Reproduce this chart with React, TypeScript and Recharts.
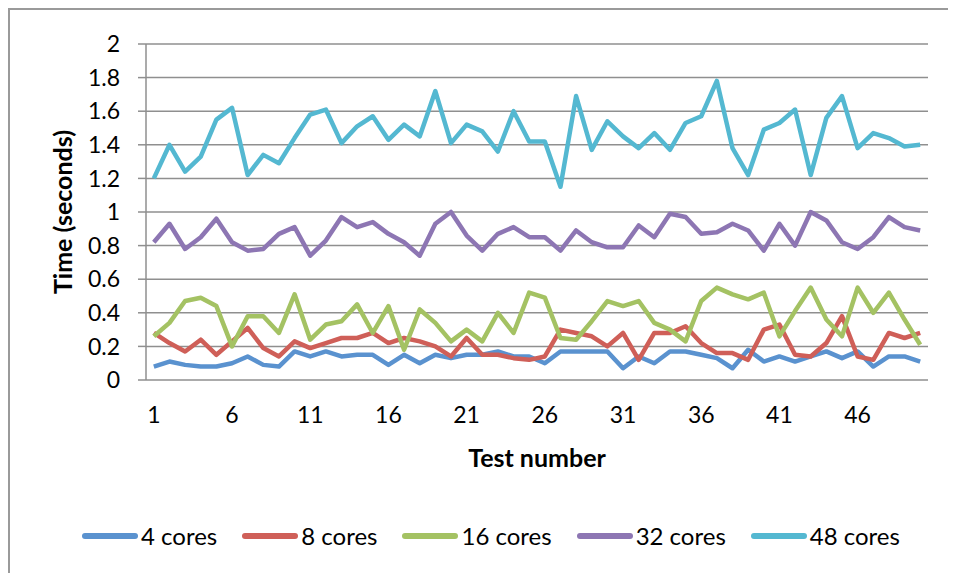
import { LineChart, Line, XAxis, YAxis, CartesianGrid, Legend } from 'recharts';

const tests = Array.from({ length: 50 }, (_, i) => i + 1);
const tickLabels = [1, 6, 11, 16, 21, 26, 31, 36, 41, 46];
const tickMarks = [...tests.map((t) => t - 0.5), 50.5];
const yTicks = [0, 0.2, 0.4, 0.6, 0.8, 1, 1.2, 1.4, 1.6, 1.8, 2];

const cores4 = [
  0.08, 0.11, 0.09, 0.08, 0.08, 0.1, 0.14, 0.09, 0.08, 0.17,
  0.14, 0.17, 0.14, 0.15, 0.15, 0.09, 0.15, 0.1, 0.15, 0.13,
  0.15, 0.15, 0.17, 0.14, 0.14, 0.1, 0.17, 0.17, 0.17, 0.17,
  0.07, 0.14, 0.1, 0.17, 0.17, 0.15, 0.13, 0.07, 0.18, 0.11,
  0.14, 0.11, 0.14, 0.17, 0.13, 0.17, 0.08, 0.14, 0.14, 0.11,
];
const cores8 = [
  0.28, 0.22, 0.17, 0.24, 0.15, 0.23, 0.31, 0.19, 0.14, 0.23,
  0.19, 0.22, 0.25, 0.25, 0.28, 0.22, 0.25, 0.23, 0.2, 0.14,
  0.25, 0.15, 0.15, 0.13, 0.12, 0.14, 0.3, 0.28, 0.26, 0.2,
  0.28, 0.12, 0.28, 0.28, 0.32, 0.22, 0.16, 0.16, 0.12, 0.3,
  0.33, 0.15, 0.14, 0.22, 0.38, 0.14, 0.12, 0.28, 0.25, 0.28,
];
const cores16 = [
  0.26, 0.34, 0.47, 0.49, 0.44, 0.2, 0.38, 0.38, 0.28, 0.51,
  0.24, 0.33, 0.35, 0.45, 0.28, 0.44, 0.18, 0.42, 0.34, 0.23,
  0.3, 0.23, 0.4, 0.28, 0.52, 0.49, 0.25, 0.24, 0.35, 0.47,
  0.44, 0.47, 0.34, 0.3, 0.23, 0.47, 0.55, 0.51, 0.48, 0.52,
  0.26, 0.41, 0.55, 0.36, 0.26, 0.55, 0.4, 0.52, 0.36, 0.21,
];
const cores32 = [
  0.82, 0.93, 0.78, 0.85, 0.96, 0.82, 0.77, 0.78, 0.87, 0.91,
  0.74, 0.83, 0.97, 0.91, 0.94, 0.87, 0.82, 0.74, 0.93, 1.0,
  0.86, 0.77, 0.87, 0.91, 0.85, 0.85, 0.77, 0.89, 0.82, 0.79,
  0.79, 0.92, 0.85, 0.99, 0.97, 0.87, 0.88, 0.93, 0.89, 0.77,
  0.93, 0.8, 1.0, 0.95, 0.82, 0.78, 0.85, 0.97, 0.91, 0.89,
];
const cores48 = [
  1.2, 1.4, 1.24, 1.33, 1.55, 1.62, 1.22, 1.34, 1.29, 1.44,
  1.58, 1.61, 1.41, 1.51, 1.57, 1.43, 1.52, 1.45, 1.72, 1.41,
  1.52, 1.48, 1.36, 1.6, 1.42, 1.42, 1.15, 1.69, 1.37, 1.54,
  1.45, 1.38, 1.47, 1.37, 1.53, 1.57, 1.78, 1.38, 1.22, 1.49,
  1.53, 1.61, 1.22, 1.56, 1.69, 1.38, 1.47, 1.44, 1.39, 1.4,
];

const SERIES = [
  { key: 'c4', name: '4 cores', color: '#5a92cf' },
  { key: 'c8', name: '8 cores', color: '#cf5f58' },
  { key: 'c16', name: '16 cores', color: '#a4c263' },
  { key: 'c32', name: '32 cores', color: '#8d76b3' },
  { key: 'c48', name: '48 cores', color: '#54b8d1' },
];

const data = tests.map((t, i) => ({
  test: t,
  c4: cores4[i],
  c8: cores8[i],
  c16: cores16[i],
  c32: cores32[i],
  c48: cores48[i],
}));

const GRID = '#8f8f8f';
const FONT = 'Lato, sans-serif';

function LegendBox() {
  return (
    <div style={{ display: 'flex', alignItems: 'center', gap: 25, fontFamily: FONT, fontSize: 24, color: '#000' }}>
      {SERIES.map((s) => (
        <div key={s.key} style={{ display: 'flex', alignItems: 'center', gap: 3 }}>
          <svg width={56} height={8}>
            <line x1={3} y1={4} x2={53} y2={4} stroke={s.color} strokeWidth={6} strokeLinecap="round" />
          </svg>
          <span>{s.name}</span>
        </div>
      ))}
    </div>
  );
}

export default function App() {
  return (
    <div style={{ position: 'relative', width: 940, height: 565, fontFamily: FONT }}>
      {/* chart frame: only its left and top edges are in view */}
      <div
        style={{
          position: 'absolute',
          left: 0,
          top: 0,
          width: 940,
          height: 565,
          boxSizing: 'border-box',
          borderLeft: '2px solid #9a9a9a',
          borderTop: '2px solid #9a9a9a',
        }}
      />
      <LineChart width={940} height={565} data={data} margin={{ top: 36, right: 20, left: 0, bottom: 93 }}>
        <CartesianGrid vertical={false} stroke={GRID} strokeWidth={1.5} />
        <XAxis
          xAxisId="marks"
          dataKey="test"
          type="number"
          domain={[0.5, 50.5]}
          ticks={tickMarks}
          interval={0}
          tick={false}
          tickSize={8}
          height={0}
          stroke={GRID}
          axisLine={{ stroke: GRID, strokeWidth: 1.5 }}
          tickLine={{ stroke: GRID, strokeWidth: 1.5 }}
        />
        <XAxis
          xAxisId="labels"
          dataKey="test"
          type="number"
          domain={[0.5, 50.5]}
          ticks={tickLabels}
          interval={0}
          axisLine={false}
          tickLine={false}
          tickSize={0}
          tickMargin={27}
          height={100}
          tick={{ fill: '#000', fontSize: 23, fontFamily: FONT }}
          label={{ value: 'Test number', position: 'insideTop', offset: 69, fill: '#000', fontSize: 25, fontWeight: 'bold', fontFamily: FONT }}
        />
        <YAxis
          domain={[0, 2]}
          ticks={yTicks}
          interval={0}
          width={138}
          tickSize={8}
          tickMargin={18}
          axisLine={{ stroke: GRID, strokeWidth: 1.5 }}
          tickLine={{ stroke: GRID, strokeWidth: 1.5 }}
          tick={{ fill: '#000', fontSize: 23, fontFamily: FONT }}
          label={{ value: 'Time (seconds)', angle: -90, position: 'center', dx: -14, fill: '#000', fontSize: 25, fontWeight: 'bold', fontFamily: FONT }}
        />
        <Legend
          layout="horizontal"
          verticalAlign="middle"
          align="center"
          content={<LegendBox />}
          wrapperStyle={{ top: 513, left: 74, width: 'auto', height: 'auto' }}
        />
        {SERIES.map((s) => (
          <Line
            key={s.key}
            xAxisId="labels"
            type="linear"
            dataKey={s.key}
            name={s.name}
            stroke={s.color}
            strokeWidth={4.5}
            strokeLinejoin="round"
            dot={false}
            activeDot={false}
            isAnimationActive={false}
          />
        ))}
      </LineChart>
    </div>
  );
}
